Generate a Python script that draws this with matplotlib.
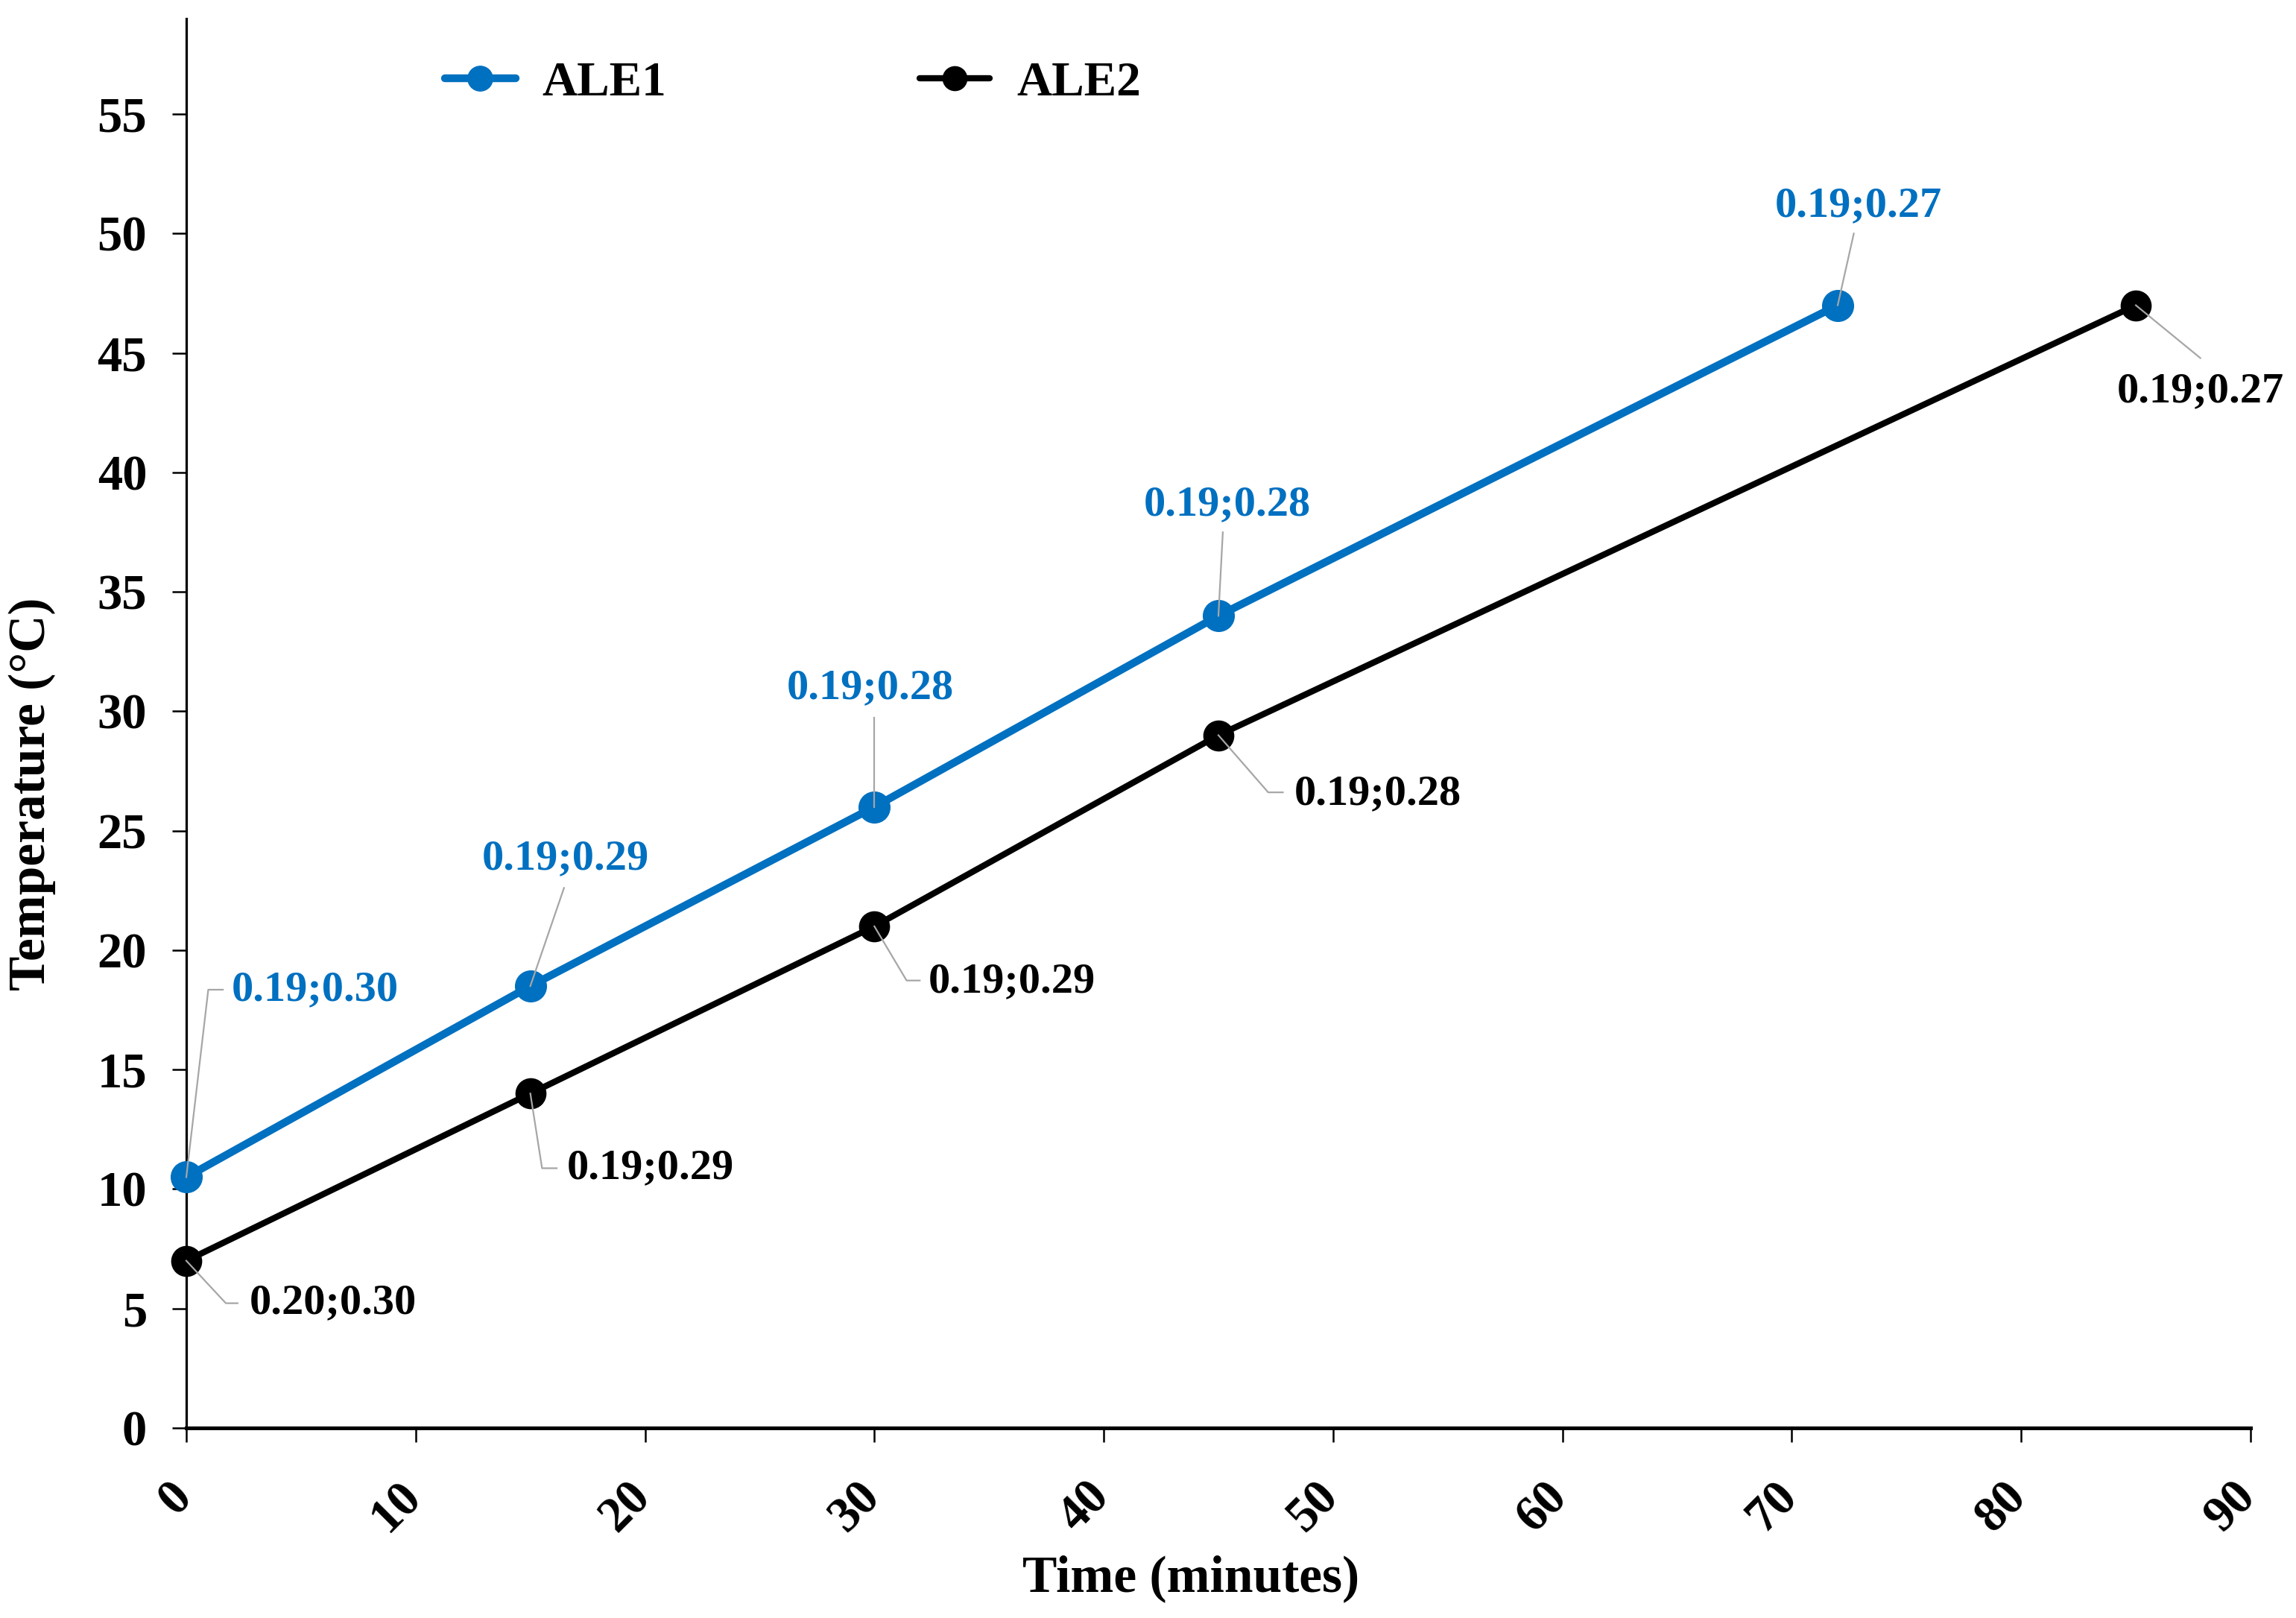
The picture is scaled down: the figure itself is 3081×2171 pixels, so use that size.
import matplotlib
matplotlib.use("Agg")
import matplotlib.pyplot as plt
from matplotlib.lines import Line2D
import matplotlib.transforms as mtransforms

# ---------------- data ----------------
series_names = ["ALE1", "ALE2"]
ale1_time = [0, 15, 30, 45, 72]
ale1_temp = [10.5, 18.5, 26.0, 34.0, 47.0]
ale1_labels = ["0.19;0.30", "0.19;0.29", "0.19;0.28", "0.19;0.28", "0.19;0.27"]
ale2_time = [0, 15, 30, 45, 85]
ale2_temp = [7.0, 14.0, 21.0, 29.0, 47.0]
ale2_labels = ["0.20;0.30", "0.19;0.29", "0.19;0.29", "0.19;0.28", "0.19;0.27"]
x_ticks = [0, 10, 20, 30, 40, 50, 60, 70, 80, 90]
y_ticks = [0, 5, 10, 15, 20, 25, 30, 35, 40, 45, 50, 55]
x_title = "Time (minutes)"
y_title = "Temperature (°C)"

# ---------------- style ----------------
BLUE = "#0070C0"
BLACK = "#000000"
GREY = "#A6A6A6"
FONT = "Liberation Serif"
plt.rcParams["font.family"] = [FONT, "DejaVu Serif"]
plt.rcParams["font.weight"] = "bold"

W, H, DPI = 3081, 2171, 100
fig = plt.figure(figsize=(W / DPI, H / DPI), dpi=DPI)
ax = fig.add_axes([250 / W, 1 - 1916 / H, (3020 - 250) / W, (1916 - 25) / H])
ax.set_xlim(0, 90)
ax.set_ylim(0, 59)

ax.plot(ale1_time, ale1_temp, color=BLUE, lw=7.5, marker="o", ms=30,
        solid_capstyle="round", label=series_names[0], zorder=3, clip_on=False)
ax.plot(ale2_time, ale2_temp, color=BLACK, lw=6, marker="o", ms=29,
        solid_capstyle="round", label=series_names[1], zorder=3, clip_on=False)

# spines / ticks
for s in ["top", "right"]:
    ax.spines[s].set_visible(False)
ax.spines["left"].set_linewidth(2.3)
ax.spines["bottom"].set_linewidth(3.6)
ax.spines["left"].set_zorder(1)
ax.set_xticks(x_ticks)
ax.set_yticks(y_ticks)
ax.tick_params(axis="both", direction="out", length=14, width=1.8, color="black")
ax.tick_params(axis="y", labelsize=48, pad=24)
ax.tick_params(axis="x", labelsize=48, pad=26)
for lab in ax.get_yticklabels():
    lab.set_fontweight("bold")
xshift = mtransforms.ScaledTranslation(-24 / DPI, -6 / DPI, fig.dpi_scale_trans)
for lab in ax.get_xticklabels():
    lab.set_fontweight("bold")
    lab.set_rotation(45)
    lab.set_ha("right")
    lab.set_va("top")
    lab.set_rotation_mode("anchor")
    lab.set_transform(lab.get_transform() + xshift)

# axis titles
fig.text(1598 / W, 1 - 2118 / H, x_title, fontsize=50, fontweight="bold",
         ha="center", va="center")
fig.text(43 / W, 1 - 1065 / H, y_title, fontsize=50, fontweight="bold",
         ha="center", va="center", rotation=90)

# legend
leg = ax.legend(loc="center left", bbox_to_anchor=(597 / W, 1 - 112 / H),
                bbox_transform=fig.transFigure, ncol=2, frameon=False,
                fontsize=47, handlelength=1.45, handletextpad=0.55,
                columnspacing=5.2, borderpad=0, borderaxespad=0,
                markerscale=0.8)
for t in leg.get_texts():
    t.set_fontweight("bold")

# ---------------- data labels with leader lines ----------------
# layout in reference pixels (shrunk image units), dx right, dy up
S = W / 1568.0
ale1_layout = [
    dict(text=(31, 128), ha="left", leader=[(0, 0), (15, 128), (25, 128)]),
    dict(text=(24, 87), ha="center", leader=[(0, 0), (23, 67)]),
    dict(text=(-3, 81), ha="center", leader=[(0, 0), (0, 61)]),
    dict(text=(6, 76), ha="center", leader=[(0, 0), (3, 57)]),
    dict(text=(14, 68), ha="center", leader=[(0, 0), (11, 49)]),
]
ale2_layout = [
    dict(text=(43, -29), ha="left", leader=[(0, 0), (27, -29), (35, -29)]),
    dict(text=(25, -51), ha="left", leader=[(0, 0), (8, -51), (18, -51)]),
    dict(text=(37, -38), ha="left", leader=[(0, 0), (22, -37), (31, -37)]),
    dict(text=(52, -40), ha="left", leader=[(0, 0), (34, -39), (44, -39)]),
    dict(text=(44, -59), ha="center", leader=[(0, 0), (44, -36)]),
]

inv = ax.transData.inverted()


def add_labels(xs, ys, labels, layout, color):
    for x, y, lab, lay in zip(xs, ys, labels, layout):
        px, py = ax.transData.transform((x, y))
        pts = [inv.transform((px + dx * S, py + dy * S)) for dx, dy in lay["leader"]]
        ax.add_line(Line2D([p[0] for p in pts], [p[1] for p in pts], color=GREY,
                           lw=1.6, zorder=5, clip_on=False))
        tx, ty = inv.transform((px + lay["text"][0] * S, py + lay["text"][1] * S))
        ax.text(tx, ty, lab, color=color, fontsize=42, fontweight="bold",
                ha=lay["ha"], va="center", zorder=6, clip_on=False)


add_labels(ale1_time, ale1_temp, ale1_labels, ale1_layout, BLUE)
add_labels(ale2_time, ale2_temp, ale2_labels, ale2_layout, BLACK)

fig.savefig("out.png", dpi=DPI, facecolor="white")
